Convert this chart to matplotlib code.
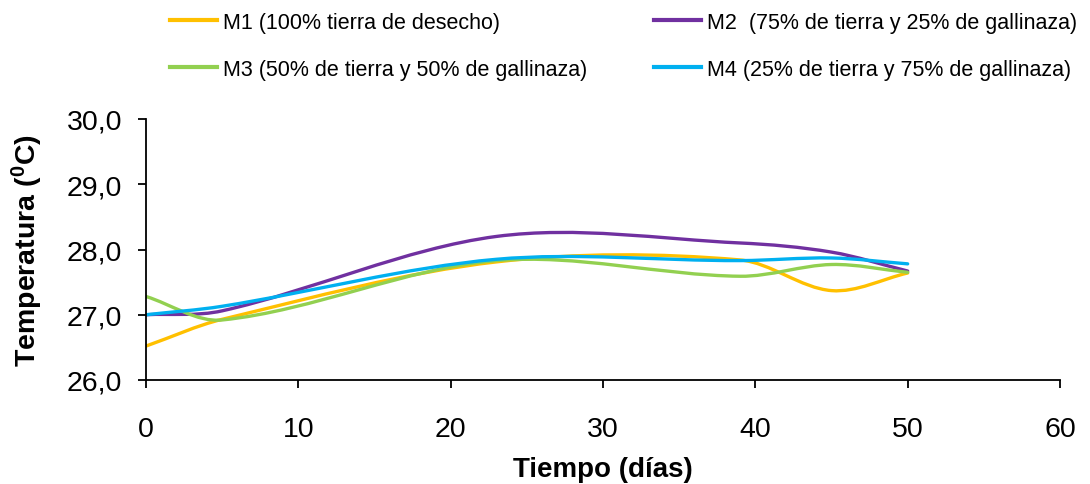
#!/usr/bin/env python3

import matplotlib
matplotlib.use('Agg')
import matplotlib.pyplot as plt
from matplotlib.lines import Line2D
from matplotlib.patches import PathPatch
from matplotlib.path import Path
from matplotlib.ticker import FuncFormatter, MultipleLocator

plt.rcParams['font.family'] = ['Liberation Sans', 'DejaVu Sans']
plt.rcParams['mathtext.fontset'] = 'custom'
plt.rcParams['mathtext.bf'] = 'Liberation Sans:bold'
plt.rcParams['mathtext.rm'] = 'Liberation Sans'

days = [0, 5, 23, 39, 45, 50]
m1 = [26.52, 26.93, 27.81, 27.84, 27.37, 27.64]
m2 = [27.00, 27.06, 28.20, 28.10, 27.96, 27.67]
m3 = [27.28, 26.92, 27.83, 27.59, 27.77, 27.65]
m4 = [27.00, 27.13, 27.85, 27.83, 27.87, 27.78]

labels = ['M1 (100% tierra de desecho)',
          'M2  (75% de tierra y 25% de gallinaza)',
          'M3 (50% de tierra y 50% de gallinaza)',
          'M4 (25% de tierra y 75% de gallinaza)']
colors = ['#FFC000', '#7030A0', '#92D050', '#00B0F0']


def smooth_path(xs, ys):
    # smoothed line: cubic bezier through the points, tangents scaled
    # by segment length since the days are unevenly spaced
    pts = list(zip(xs, ys))
    n = len(pts)

    def ctrl(i, j):
        # control point next to point i, on the side of point j
        a = pts[max(i - 1, 0)]
        b = pts[min(i + 1, n - 1)]
        tx, ty = b[0] - a[0], b[1] - a[1]
        if tx == 0:
            return pts[i]
        h = abs(pts[j][0] - pts[i][0])
        s = h / tx / 3.0
        sign = 1 if j > i else -1
        return (pts[i][0] + sign * tx * s, pts[i][1] + sign * ty * s)

    verts = [pts[0]]
    codes = [Path.MOVETO]
    for i in range(n - 1):
        verts += [ctrl(i, i + 1), ctrl(i + 1, i), pts[i + 1]]
        codes += [Path.CURVE4] * 3
    return Path(verts, codes)


def main():
    fig = plt.figure(figsize=(10.9, 4.85), dpi=100)
    ax = fig.add_axes([146 / 1090, 1 - 381 / 485, (1060 - 146) / 1090, (381 - 120) / 485])

    series = [m1, m2, m3, m4]
    handles = []
    for ys, color, label in zip(series, colors, labels):
        patch = PathPatch(smooth_path(days, ys), fill=False, edgecolor=color,
                          lw=2.4, capstyle='round', joinstyle='round')
        ax.add_patch(patch)
        handles.append(Line2D([], [], color=color, lw=3.0, label=label))

    ax.set_xlim(0, 60)
    ax.set_ylim(26, 30)
    ax.xaxis.set_major_locator(MultipleLocator(10))
    ax.yaxis.set_major_locator(MultipleLocator(1))
    ax.yaxis.set_major_formatter(FuncFormatter(lambda v, p: ('%.1f' % v).replace('.', ',')))
    for side in ['top', 'right']:
        ax.spines[side].set_visible(False)
    for side in ['left', 'bottom']:
        ax.spines[side].set_linewidth(1.3)
    ax.tick_params(axis='both', direction='out', length=6, width=1.3, labelsize=20.5)
    ax.tick_params(axis='x', pad=20)
    ax.tick_params(axis='y', pad=11)

    ax.set_xlabel('Tiempo (días)', fontsize=20, fontweight='bold', labelpad=10)
    ax.set_ylabel(r'Temperatura ($\mathbf{^{0}}$C)', fontsize=20.5, fontweight='bold', labelpad=16)

    common = dict(loc='upper left', frameon=False, fontsize=15.5, borderpad=0,
                  borderaxespad=0, handlelength=2.2, handletextpad=0.25,
                  labelspacing=1.2)
    fig.legend(handles=[handles[0], handles[2]], bbox_to_anchor=(170 / 1090, 1 - 13 / 485), **common)
    fig.legend(handles=[handles[1], handles[3]], bbox_to_anchor=(654 / 1090, 1 - 13 / 485), **common)

    plt.savefig('out.png', dpi=100)
    plt.close(fig)


if __name__ == '__main__':
    main()
